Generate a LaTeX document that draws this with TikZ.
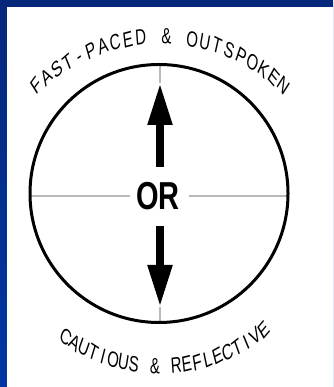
\documentclass[tikz,border=0pt]{standalone}
\usepackage{fontspec}
\setmainfont{Liberation Sans}
\definecolor{framenavy}{RGB}{6, 40, 122}
\definecolor{frameblue}{RGB}{0, 54, 164}
\definecolor{axisgray}{RGB}{185, 185, 185}
\usetikzlibrary{arrows.meta, calc}

\tikzset{
  axisline/.style={draw=axisgray, line width=2pt},
  dialline/.style={draw=black, line width=3pt},
  bigarrow/.style={line width=8pt, -{Triangle[length=42pt, width=23pt]}},
  archletter/.style={font=\normalsize, anchor=base, inner sep=0pt, xscale=1.5, yscale=2.2},
  orlabel/.style={font=\normalsize\bfseries, inner sep=0pt, xscale=2.9, yscale=3.9},
}

\begin{document}
\begin{tikzpicture}[x=1pt, y=1pt]
  \useasboundingbox (0,0) rectangle (333,387);
  % Frame
  \shade[top color=framenavy, bottom color=frameblue] (0,0) rectangle (333,387);
  \fill[white] (7,0) rectangle (333,380);

  % Dial
  \coordinate (dial) at (159,193.5);
  \coordinate (dialN) at (160,322.5);
  \coordinate (dialS) at (160,64.5);
  \coordinate (dialW) at (30,191);
  \coordinate (dialE) at (288,191);
  \node[orlabel] (or) at (158,191) {OR};
  \coordinate (orW) at ($(or.west)+(-6,0)$);
  \coordinate (orE) at ($(or.east)+(9,0)$);
  \coordinate (upTail) at (160,220);
  \coordinate (upTip) at (160,304);
  \coordinate (downTail) at (160,161);
  \coordinate (downTip) at (160,80);

  \draw[axisline] (dialW) -- (orW);
  \draw[axisline] (orE) -- (dialE);
  \draw[axisline] (dialN) -- (upTip);
  \draw[axisline] (downTip) -- (dialS);
  \draw[dialline] (dial) circle[radius=129];

  % Arrows
  \draw[bigarrow] (upTail) -- (upTip);
  \draw[bigarrow] (downTail) -- (downTip);

  % Arched captions
  \coordinate (topArc) at (160,167);
  \coordinate (lowArc) at (160,182);
  \foreach \ch [count=\i] in {F,A,S,T,-,P,A,C,E,D,{},\&,{},O,U,T,S,P,O,K,E,N} {
    \pgfmathsetmacro\ang{135-(\i-0.5)*90/22}
    \node[archletter, rotate=\ang-90] (topch\i) at ($(topArc)+(\ang:176)$) {\ch};
  }
  \foreach \ch [count=\i] in {C,A,U,T,I,O,U,S,{},\&,{},R,E,F,L,E,C,T,I,V,E} {
    \pgfmathsetmacro\ang{-127+(\i-0.5)*78/21}
    \node[archletter, rotate=\ang+90] (lowch\i) at ($(lowArc)+(\ang:169)$) {\ch};
  }
\end{tikzpicture}
\end{document}
